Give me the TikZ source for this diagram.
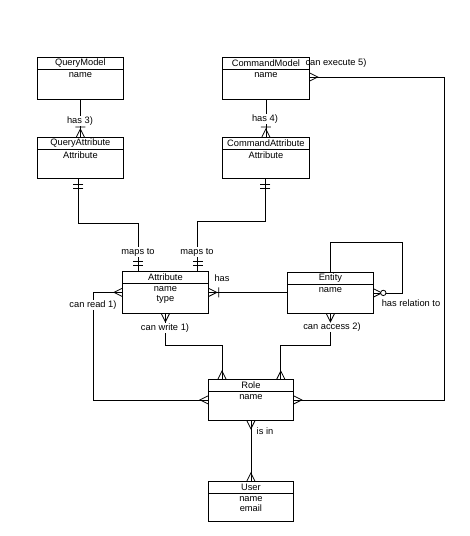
\documentclass[tikz,border=0pt]{standalone}
\usepackage{fontspec}
\setmainfont{Liberation Sans}
\begin{document}
\begin{tikzpicture}[x=1pt,y=-1pt,
  line/.style={draw=black,line width=0.8pt},
  mk/.style={draw=black,line width=0.8pt},
  ebox/.style={draw=black,line width=0.8pt,anchor=north west,inner sep=0pt,fill=white},
  txt/.style={font=\fontsize{9.3}{10.6}\selectfont,inner sep=0pt},
  lbl/.style={font=\fontsize{9.3}{10.6}\selectfont,inner sep=1pt,fill=white},
  crow/.pic={\draw[mk] (0,4) -- (8,0) -- (0,-4);},
  crowbar/.pic={\draw[mk] (0,4) -- (8,0) -- (0,-4) (10,-5) -- (10,5);},
  crowzero/.pic={\draw[mk] (0,4) -- (8,0) -- (0,-4); \draw[mk,fill=white] (9.5,0) circle (2.7);},
  onetwo/.pic={\draw[mk] (6,-5) -- (6,5) (10,-5) -- (10,5);}
]
\fill[white] (0,0) rectangle (470,536);
\useasboundingbox (0,0) rectangle (470,536);

\newcommand\erbox[7]{%
  \node[ebox,minimum width=#4pt,minimum height=#5pt] (#1) at (#2,#3) {};
  \draw[line] ([yshift=-12pt]#1.north west) -- ([yshift=-12pt]#1.north east);
  \node[txt] (#1-t) at ([yshift=-6pt]#1.north) {#6};
  \node[txt,align=center,anchor=north] (#1-b) at ([yshift=-15pt]#1.north) {#7};
}

\erbox{qm}{37}{57}{86}{42}{QueryModel}{name}
\erbox{qa}{37}{137}{86}{41}{QueryAttribute}{Attribute}
\erbox{cm}{222}{57}{87}{42}{CommandModel}{name}
\erbox{ca}{222}{137}{87}{41}{CommandAttribute}{Attribute}
\erbox{attr}{122}{271}{86}{42}{Attribute}{name\\type}
\erbox{ent}{287}{272}{86}{41}{Entity}{name}
\erbox{role}{208}{379}{85}{41}{Role}{name}
\erbox{user}{208}{481}{85}{40}{User}{name\\email}

% connectors
\draw[line] (qm.south) -- (qa.north);
\draw[line] (cm.south) -- (ca.north);
\draw[line] ([xshift=-2pt]qa.south) -- ++(0,45) -| ([xshift=16pt]attr.north west);
\draw[line] ([xshift=-0.5pt]ca.south) -- ++(0,43) -| ([xshift=-11pt]attr.north east);
\draw[line] (attr.east) -- (attr.east -| ent.west);
\draw[line] (ent.north) -- ++(0,-30) -- ++(72,0) |- (ent.east);
\draw[line] (attr.west) -- ++(-29,0) |- (role.west);
\draw[line] (attr.south) -- ++(0,32) -| ([xshift=14pt]role.north west);
\draw[line] (ent.south) -- ++(0,32) -| ([xshift=-13pt]role.north east);
\draw[line] ([yshift=-20pt]cm.north east) -- ++(135,0) |- (role.east);
\draw[line] (role.south) -- (user.north);

% labels
\node[lbl] (l1) at (80,121) {has 3)};
\node[lbl] (l2) at (265,119) {has 4)};
\node[lbl] (l3) at (138,252) {maps to};
\node[lbl] (l4) at (197,252) {maps to};
\node[txt] (l5) at (222,278) {has};
\node[txt] (l6) at (411,303) {has relation to};
\node[lbl] (l7) at (93,305) {can read 1)};
\node[lbl] (l8) at (165,328) {can write 1)};
\node[lbl] (l9) at (332,327) {can access 2)};
\node[txt] (l10) at (336,63) {can execute 5)};
\node[txt] (l11) at (265,431) {is in};

% markers
\pic[rotate=90] at (qa.north) {crowbar};
\pic[rotate=90] at (ca.north) {crowbar};
\pic[rotate=-90] at ([xshift=-2pt]qa.south) {onetwo};
\pic[rotate=-90] at ([xshift=-0.5pt]ca.south) {onetwo};
\pic[rotate=90] at ([xshift=16pt]attr.north west) {onetwo};
\pic[rotate=90] at ([xshift=-11pt]attr.north east) {onetwo};
\pic at (attr.east) {crowbar};
\pic at (ent.east) {crowzero};
\pic[rotate=180] at (attr.west) {crow};
\pic[rotate=180] at (role.west) {crow};
\pic[rotate=-90] at (attr.south) {crow};
\pic[rotate=-90] at (ent.south) {crow};
\pic[rotate=90] at ([xshift=14pt]role.north west) {crow};
\pic[rotate=90] at ([xshift=-13pt]role.north east) {crow};
\pic at ([yshift=-20pt]cm.north east) {crow};
\pic at (role.east) {crow};
\pic[rotate=-90] at (role.south) {crow};
\pic[rotate=90] at (user.north) {crow};
\end{tikzpicture}
\end{document}
